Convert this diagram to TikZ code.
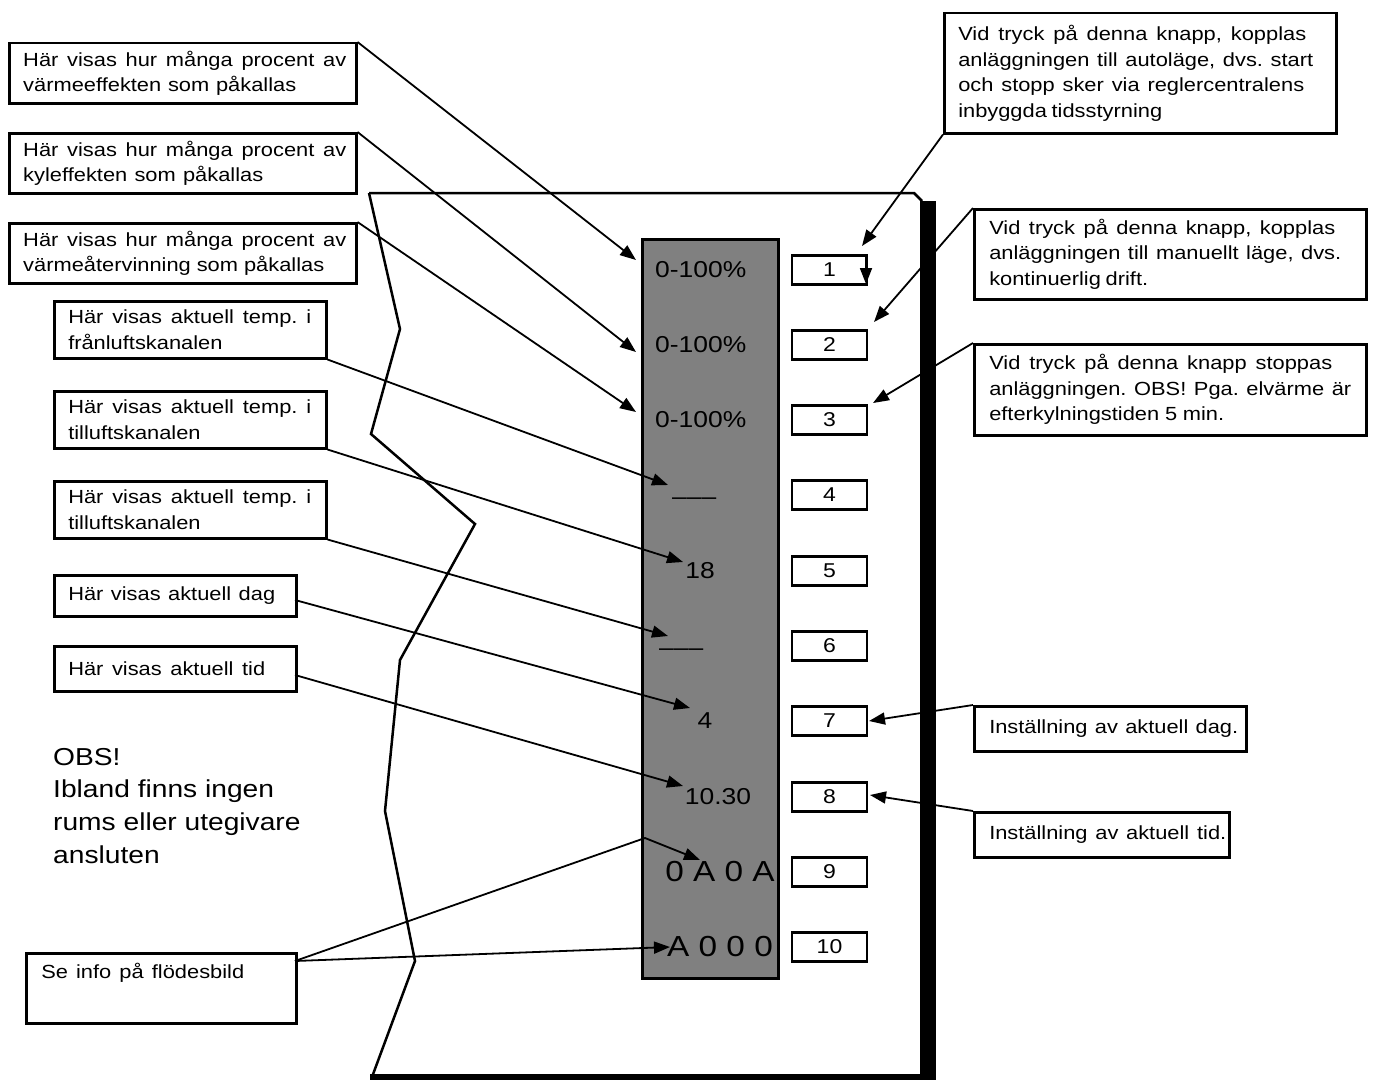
\documentclass[tikz,border=0pt]{standalone}
\usepackage{fontspec}
\setmainfont{Liberation Sans}[FakeStretch=1.15]
\usetikzlibrary{arrows.meta}
\definecolor{dispgray}{RGB}{128,128,128}
\newcommand\JL[2]{\makebox[#1pt][s]{\frenchspacing\spaceskip=0.25em plus 1fil\relax #2}}
\hfuzz=200pt
\hbadness=10000
\begin{document}
\begin{tikzpicture}[x=1pt,y=-1pt,
  box/.style={draw, line width=2.5pt, fill=white, anchor=north west, inner xsep=14pt, inner ysep=0pt,
    align=left, font=\fontsize{19}{25.5}\selectfont},
  btn/.style={draw, line width=2.5pt, minimum width=75pt, minimum height=29pt, inner sep=0pt,
    font=\fontsize{20}{22}\selectfont},
  val/.style={inner sep=0pt, font=\fontsize{23}{25}\selectfont},
  bigval/.style={inner sep=0pt, font=\fontsize{29}{31}\selectfont},
  arr/.style={line width=1.8pt, -{Triangle[length=16pt,width=12pt]}},
  frame/.style={line width=2.5pt, line join=miter},
]
\useasboundingbox (0,0) rectangle (1373,1081);

% outline of the unit
\draw[frame] (369,193) -- (400,329) -- (371,434) -- (475,524) -- (400,660) -- (385,811) -- (415,961) -- (372,1077);
\draw[frame] (369,193) -- (914,193) -- (922,201);

% display
\node[draw, line width=2.5pt, fill=dispgray, anchor=north west, minimum width=136pt, minimum height=739pt, inner sep=0pt] (disp) at (641,238) {};
\node[val, anchor=west] (v1) at (655,270) {0-100\%};
\node[val, anchor=west] (v2) at (655,345) {0-100\%};
\node[val, anchor=west] (v3) at (655,420) {0-100\%};
\node[val, anchor=west] (v4) at (672,501) {–––};
\node[val] (v5) at (700,571) {18};
\node[val, anchor=west] (v6) at (659,652) {–––};
\node[val] (v7) at (705,721) {4};
\node[val] (v8) at (718,797) {10.30};
\node[bigval] (v9) at (720,872) {0 A 0 A};
\node[bigval] (v10) at (720,947) {A 0 0 0};

% buttons
\foreach \i/\y in {1/270,2/345,3/420,4/495,5/571,6/646,7/721,8/797,9/872,10/947}
  \node[btn] (btn\i) at (829.5,\y) {\i};

% left info boxes
\node[box, text width=319pt, minimum height=60pt] (b1) at (8,42)
  {\JL{323}{Här visas hur många procent av}\\\JL{273}{värmeeffekten som påkallas}};
\node[box, text width=319pt, minimum height=60pt] (b2) at (8,132)
  {\JL{323}{Här visas hur många procent av}\\\JL{240}{kyleffekten som påkallas}};
\node[box, text width=319pt, minimum height=60pt] (b3) at (8,222)
  {\JL{323}{Här visas hur många procent av}\\\JL{301}{värmeåtervinning som påkallas}};
\node[box, text width=244pt, minimum height=57pt] (b4) at (53,300)
  {\JL{243}{Här visas aktuell temp. i}\\\JL{149}{frånluftskanalen}};
\node[box, text width=244pt, minimum height=57pt] (b5) at (53,390)
  {\JL{243}{Här visas aktuell temp. i}\\\JL{128}{tilluftskanalen}};
\node[box, text width=244pt, minimum height=57pt] (b6) at (53,480)
  {\JL{243}{Här visas aktuell temp. i}\\\JL{128}{tilluftskanalen}};
\node[box, text width=214pt, minimum height=41pt] (b7) at (53,574)
  {\JL{207}{Här visas aktuell dag}};
\node[box, text width=214pt, minimum height=45pt] (b8) at (53,645)
  {\JL{197}{Här visas aktuell tid}};
\node[box, text width=240pt, minimum height=70pt, inner xsep=15pt] (b9) at (25,952)
  {\JL{203}{Se info på flödesbild}\\[10pt]\mbox{}};

% note
\node[anchor=north west, inner sep=0pt, align=left, font=\fontsize{24.5}{32.6}\selectfont] (obs) at (53,748)
  {OBS!\\Ibland finns ingen\\rums eller utegivare\\ansluten};

% right info boxes
\node[box, text width=364pt, minimum height=120pt] (r1) at (943,12)
  {\JL{348}{Vid tryck på denna knapp, kopplas}\\\JL{355}{anläggningen till autoläge, dvs. start}\\
   \JL{346}{och stopp sker via reglercentralens}\\\JL{201}{inbyggda tidsstyrning}};
\node[box, text width=362pt, minimum height=90pt, inner xsep=15pt] (r2) at (973,208)
  {\JL{346}{Vid tryck på denna knapp, kopplas}\\\JL{352}{anläggningen till manuellt läge, dvs.}\\\JL{157}{kontinuerlig drift.}};
\node[box, text width=362pt, minimum height=91pt, inner xsep=15pt] (r3) at (973,343)
  {\JL{343}{Vid tryck på denna knapp stoppas}\\\JL{362}{anläggningen. OBS! Pga. elvärme är}\\\JL{235}{efterkylningstiden 5 min.}};
\node[box, text width=242pt, minimum height=45pt, inner xsep=15pt] (r4) at (973,705)
  {\JL{249}{Inställning av aktuell dag.}};
\node[box, text width=225pt, minimum height=45pt, inner xsep=15pt] (r5) at (973,811)
  {\JL{237}{Inställning av aktuell tid.}};

% arrow targets
\coordinate (t1) at (636,260);
\coordinate (t2) at (636,352);
\coordinate (t3) at (636,412);
\coordinate (t4) at (668,485);
\coordinate (t5) at (683,562);
\coordinate (t6) at (668,636);
\coordinate (t7) at (690,708);
\coordinate (t8) at (683,786);
\coordinate (k9) at (645,838);
\coordinate (t9) at (700,860);
\coordinate (t10) at (670,947);
\coordinate (s7) at (295,600);
\coordinate (s8) at (295,675);
\coordinate (s9) at (295,961);
\coordinate (u1) at (862,246);
\coordinate (u2) at (874,322);
\coordinate (u3) at (873,403);
\coordinate (u7) at (869,721);
\coordinate (u8) at (870,795);
\coordinate (m1) at (866,256);
\coordinate (m2) at (866,284);

% connectors
\draw[arr] (b1.north east) -- (t1);
\draw[arr] (b2.north east) -- (t2);
\draw[arr] (b3.north east) -- (t3);
\draw[arr] (b4.south east) -- (t4);
\draw[arr] (b5.south east) -- (t5);
\draw[arr] (b6.south east) -- (t6);
\draw[arr] (s7) -- (t7);
\draw[arr] (s8) -- (t8);
\draw[arr] (s9) -- (k9) -- (t9);
\draw[arr] (s9) -- (t10);
\draw[arr] (r1.south west) -- (u1);
\draw[arr] (m1) -- (m2);
\draw[arr] (r2.north west) -- (u2);
\draw[arr] (r3.north west) -- (u3);
\draw[arr] (r4.north west) -- (u7);
\draw[arr] (r5.north west) -- (u8);

% thick right and bottom edges
\fill (920,201) rectangle (936,1080);
\fill (370,1074) rectangle (936,1080);
\end{tikzpicture}
\end{document}
